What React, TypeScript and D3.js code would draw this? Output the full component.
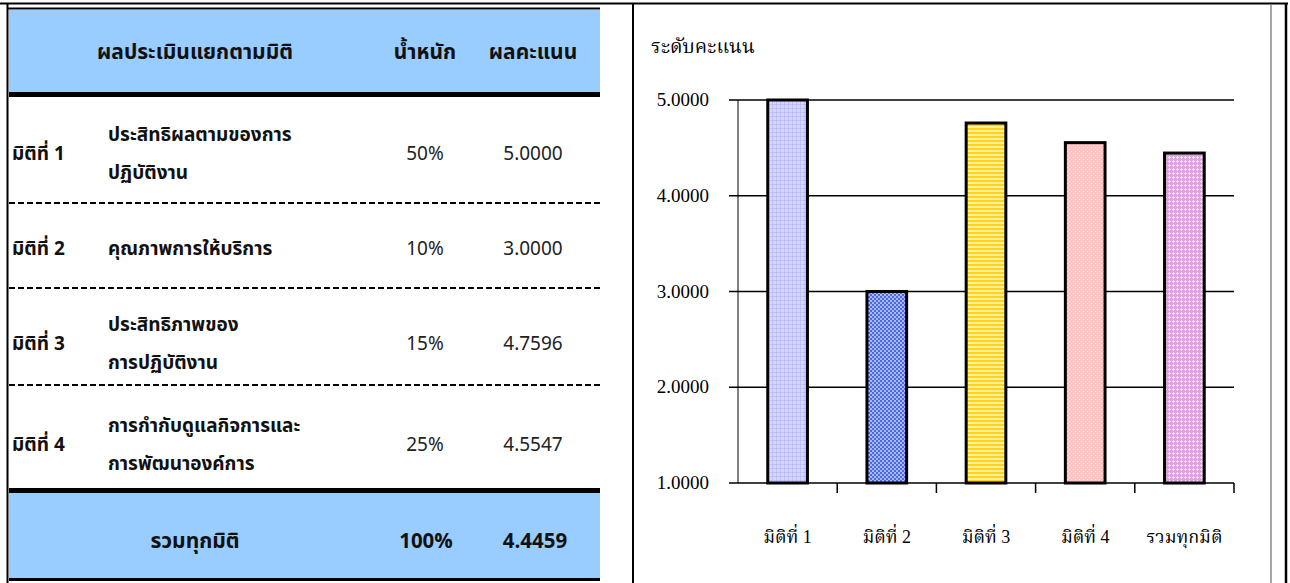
import React from "react";
import * as d3 from "d3";

// ---- data ----
const dimLabels = ["มิติที่ 1", "มิติที่ 2", "มิติที่ 3", "มิติที่ 4"];
const descriptions = [
  ["ประสิทธิผลตามของการ", "ปฏิบัติงาน"],
  ["คุณภาพการให้บริการ"],
  ["ประสิทธิภาพของ", "การปฏิบัติงาน"],
  ["การกำกับดูแลกิจการและ", "การพัฒนาองค์การ"],
];
const weights = ["50%", "10%", "15%", "25%"];
const scores = [5.0, 3.0, 4.7596, 4.5547];
const totalLabel = "รวมทุกมิติ";
const totalWeight = "100%";
const totalScore = 4.4459;
const headers = ["ผลประเมินแยกตามมิติ", "น้ำหนัก", "ผลคะแนน"];
const chartTitle = "ระดับคะแนน";
const chartCategories = ["มิติที่ 1", "มิติที่ 2", "มิติที่ 3", "มิติที่ 4", "รวมทุกมิติ"];
const chartValues = [5.0, 3.0, 4.7596, 4.5547, 4.4459];
const yTicks = [1, 2, 3, 4, 5];

const SANS = "Tahoma, 'Noto Sans Thai', 'Noto Sans', 'DejaVu Sans', sans-serif";
const SERIF = "'Liberation Serif', 'Noto Serif Thai', serif";

const rowCenters = [153, 248, 343, 444];
const dashYs = [203, 288, 385];

export default function App() {
  const x = d3
    .scaleBand<string>()
    .domain(chartCategories)
    .range([738, 1234])
    .paddingInner(0.6)
    .paddingOuter(0.3);
  const y = d3.scaleLinear().domain([1, 5]).range([483, 100]);
  const step = x.step();
  const boundaries = chartCategories.map((c) => (x(c) as number) + x.bandwidth() + (step - x.bandwidth()) / 2);

  const fills = ["url(#p1)", "url(#p2)", "url(#p3)", "url(#p4)", "url(#p5)"];

  return (
    <svg
      width={1290}
      height={583}
      style={{ position: "absolute", left: 0, top: 0, background: "#fff" }}
    >
      <defs>
        <pattern id="p1" width="4" height="4" patternUnits="userSpaceOnUse">
          <rect width="4" height="4" fill="#d6d6ff" />
          <path d="M0 0H4M0 0V4" stroke="#a8a8f4" strokeWidth="1" />
        </pattern>
        <pattern id="p2" width="4" height="4" patternUnits="userSpaceOnUse">
          <rect width="4" height="4" fill="#a8baf8" />
          <rect width="2" height="2" fill="#4a68e4" />
          <rect x="2" y="2" width="2" height="2" fill="#4a68e4" />
        </pattern>
        <pattern id="p3" width="4" height="4" patternUnits="userSpaceOnUse">
          <rect width="4" height="4" fill="#fff09a" />
          <rect width="4" height="2" fill="#ffd21e" />
        </pattern>
        <pattern id="p4" width="4" height="4" patternUnits="userSpaceOnUse">
          <rect width="4" height="4" fill="#ffc4c4" />
          <rect x="1" y="1" width="1" height="1" fill="#ffe6e6" />
          <rect x="3" y="3" width="1" height="1" fill="#ffe6e6" />
        </pattern>
        <pattern id="p5" width="4" height="4" patternUnits="userSpaceOnUse">
          <rect width="4" height="4" fill="#d9a6dc" />
          <path d="M0 1.5H3M1.5 0V3" stroke="#f3e2f4" strokeWidth="1" />
        </pattern>
      </defs>

      {/* frame */}
      <line x1={0} x2={1288} y1={3.5} y2={3.5} stroke="#000" strokeWidth={2} />
      <line x1={7.5} x2={7.5} y1={3} y2={583} stroke="#000" strokeWidth={2} />
      <line x1={633} x2={633} y1={3} y2={583} stroke="#000" strokeWidth={2} />
      <line x1={1271} x2={1271} y1={5} y2={583} stroke="#888" strokeWidth={1.5} />
      <line x1={1286} x2={1286} y1={3} y2={583} stroke="#000" strokeWidth={2.5} />

      {/* ---- table ---- */}
      <line x1={8} x2={600} y1={8.5} y2={8.5} stroke="#000" strokeWidth={2} />
      <rect x={9} y={10} width={591} height={83} fill="#99ccff" />
      <rect x={9} y={92} width={591} height={5} fill="#000" />
      <text x={97} y={59} fontFamily={SANS} fontSize={21} fontWeight="bold" fill="#111">
        {headers[0]}
      </text>
      <text x={425} y={59} fontFamily={SANS} fontSize={21} fontWeight="bold" textAnchor="middle" fill="#111">
        {headers[1]}
      </text>
      <text x={533} y={59} fontFamily={SANS} fontSize={21} fontWeight="bold" textAnchor="middle" fill="#111">
        {headers[2]}
      </text>

      {dimLabels.map((d, i) => (
        <g key={d}>
          <text x={12} y={rowCenters[i] + 7} fontFamily={SANS} fontSize={19} fontWeight="bold" fill="#111">
            {d}
          </text>
          {descriptions[i].map((line, j) => {
            const n = descriptions[i].length;
            const yy = rowCenters[i] + 7 + (j - (n - 1) / 2) * 38;
            return (
              <text key={j} x={108} y={yy} fontFamily={SANS} fontSize={19} fontWeight="bold" fill="#111">
                {line}
              </text>
            );
          })}
          <text x={425} y={rowCenters[i] + 7} fontFamily={SANS} fontSize={19} textAnchor="middle" fill="#222">
            {weights[i]}
          </text>
          <text x={533} y={rowCenters[i] + 7} fontFamily={SANS} fontSize={19} textAnchor="middle" fill="#222">
            {scores[i].toFixed(4)}
          </text>
        </g>
      ))}
      {dashYs.map((yy) => (
        <line key={yy} x1={9} x2={600} y1={yy} y2={yy} stroke="#000" strokeWidth={2} strokeDasharray="6 3" />
      ))}

      <rect x={9} y={488} width={591} height={5} fill="#000" />
      <rect x={9} y={493} width={591} height={85} fill="#99ccff" />
      <rect x={9} y={578} width={591} height={3} fill="#000" />
      <text x={195} y={548} fontFamily={SANS} fontSize={21} fontWeight="bold" textAnchor="middle" fill="#111">
        {totalLabel}
      </text>
      <text x={426} y={548} fontFamily={SANS} fontSize={20.5} fontWeight="bold" textAnchor="middle" fill="#111">
        {totalWeight}
      </text>
      <text x={535} y={548} fontFamily={SANS} fontSize={20.5} fontWeight="bold" textAnchor="middle" fill="#111">
        {totalScore.toFixed(4)}
      </text>

      {/* ---- chart ---- */}
      <text x={651} y={53} fontFamily={SERIF} fontSize={19.5} fill="#000">
        {chartTitle}
      </text>
      {yTicks.map((t) => (
        <g key={t}>
          <line x1={729} x2={1234} y1={y(t)} y2={y(t)} stroke="#000" strokeWidth={1.5} />
          <text x={709} y={y(t) + 6} fontFamily={SERIF} fontSize={19} textAnchor="end" fill="#000">
            {t.toFixed(4)}
          </text>
        </g>
      ))}
      <line x1={738} x2={738} y1={y(5)} y2={y(1)} stroke="#000" strokeWidth={1} />
      {boundaries.map((bx, i) => (
        <line key={i} x1={bx} x2={bx} y1={y(1)} y2={y(1) + 10} stroke="#000" strokeWidth={1.5} />
      ))}
      {chartCategories.map((c, i) => (
        <rect
          key={c}
          x={x(c)}
          y={y(chartValues[i])}
          width={x.bandwidth()}
          height={y(1) - y(chartValues[i])}
          fill={fills[i]}
          stroke="#000"
          strokeWidth={3}
        />
      ))}
      {chartCategories.map((c) => (
        <text
          key={c}
          x={(x(c) as number) + x.bandwidth() / 2}
          y={543}
          fontFamily={SERIF}
          fontSize={18}
          textAnchor="middle"
          fill="#000"
        >
          {c}
        </text>
      ))}
    </svg>
  );
}
